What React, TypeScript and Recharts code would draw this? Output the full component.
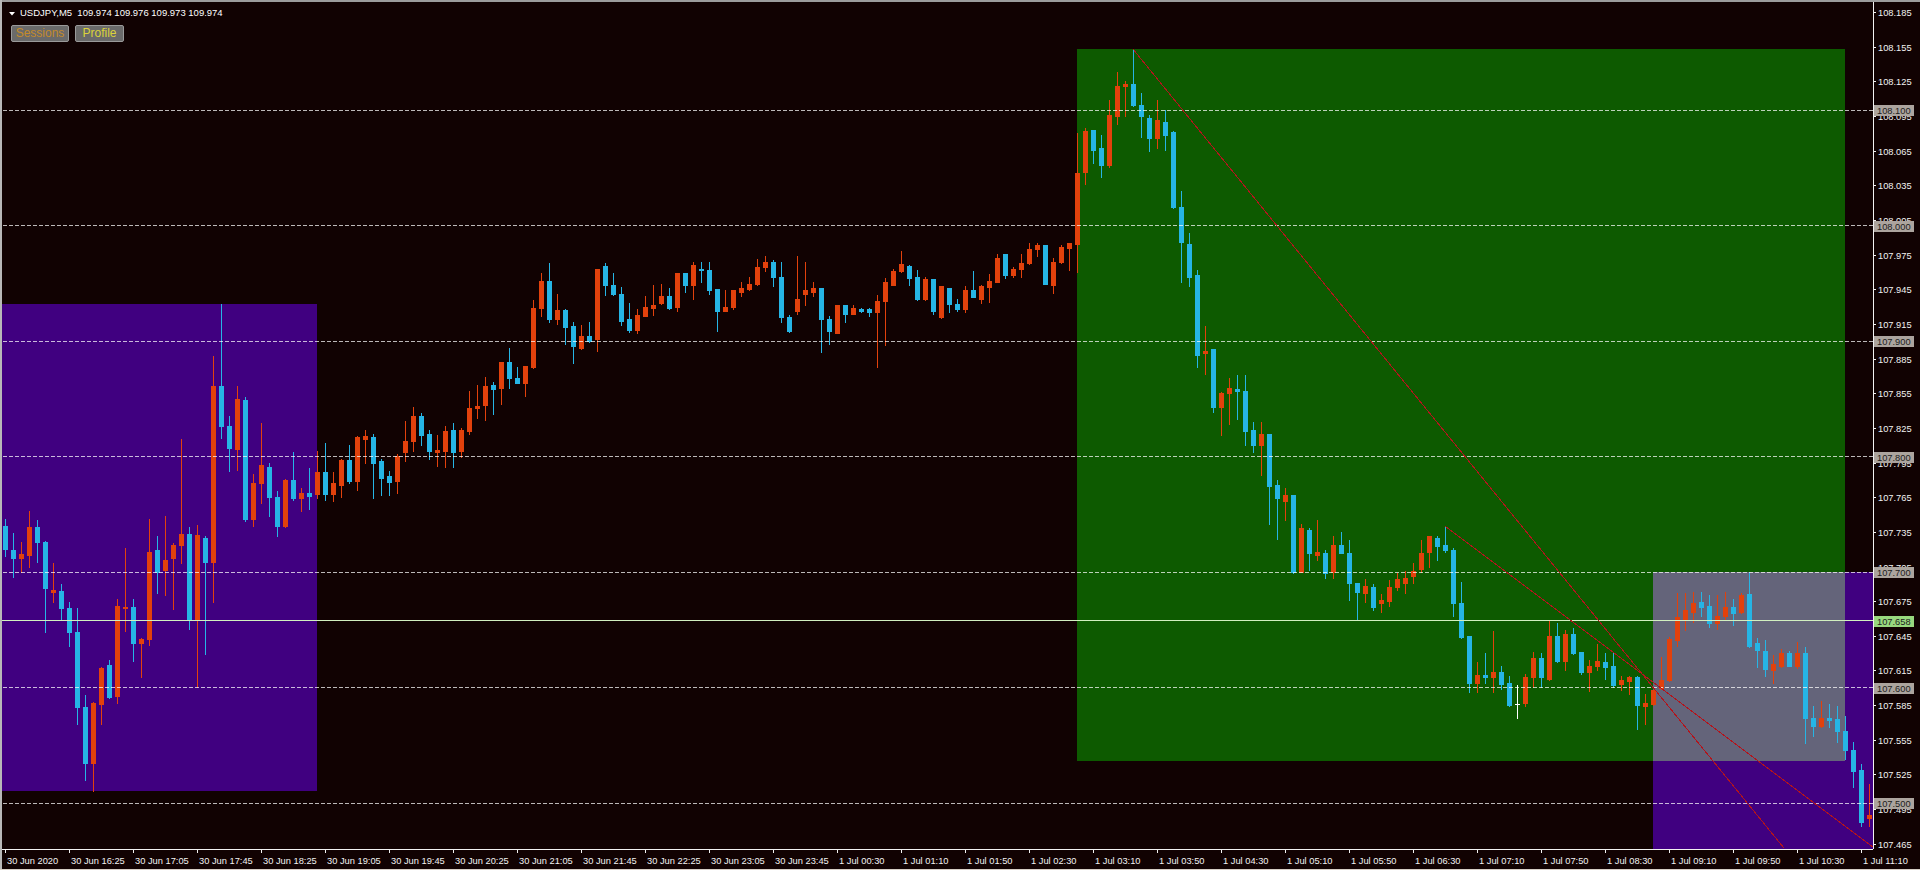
import React from 'react';
import { ComposedChart, Bar, XAxis, YAxis, ReferenceArea, ReferenceLine } from 'recharts';

// ---------- data (USDJPY M5, 234 bars) ----------
const OPEN = [
  107.740,107.719,107.712,107.715,107.739,107.726,107.683,107.684,107.669,107.648,
  107.583,107.535,107.586,107.620,107.593,107.669,107.670,107.639,107.642,107.719,
  107.702,107.712,107.724,107.733,107.659,107.730,107.709,107.861,107.827,107.807,
  107.849,107.746,107.777,107.791,107.765,107.740,107.780,107.764,107.769,107.768,
  107.787,107.768,107.776,107.797,107.779,107.815,107.817,107.796,107.783,107.779,
  107.804,107.814,107.835,107.820,107.804,107.805,107.823,107.805,107.822,107.842,
  107.845,107.862,107.860,107.882,107.868,107.864,107.878,107.929,107.952,107.919,
  107.927,107.913,107.894,107.905,107.902,107.965,107.949,107.941,107.919,107.910,
  107.922,107.929,107.933,107.939,107.930,107.959,107.949,107.963,107.962,107.945,
  107.926,107.930,107.943,107.945,107.950,107.964,107.969,107.956,107.921,107.926,
  107.941,107.943,107.946,107.919,107.907,107.931,107.924,107.928,107.928,107.925,
  107.935,107.949,107.961,107.965,107.956,107.937,107.954,107.921,107.946,107.932,
  107.928,107.944,107.937,107.947,107.951,107.976,107.957,107.963,107.968,107.980,
  107.983,107.949,107.969,107.981,107.984,108.047,108.083,108.067,108.053,108.095,
  108.121,108.123,108.105,108.093,108.076,108.090,108.081,108.016,107.984,107.957,
  107.890,107.893,107.843,107.855,107.859,107.857,107.823,107.810,107.820,107.776,
  107.762,107.767,107.700,107.737,107.715,107.717,107.700,107.724,107.717,107.691,
  107.682,107.687,107.673,107.675,107.687,107.691,107.697,107.703,107.718,107.730,
  107.724,107.719,107.673,107.645,107.604,107.611,107.609,107.614,107.604,107.586,
  107.587,107.609,107.626,107.608,107.645,107.623,107.647,107.631,107.614,107.619,
  107.622,107.619,107.603,107.606,107.609,107.584,107.586,107.600,107.607,107.641,
  107.659,107.666,107.674,107.671,107.656,107.662,107.670,107.666,107.681,107.639,
  107.632,107.615,107.619,107.630,107.619,107.630,107.574,107.567,107.574,107.573,
  107.563,107.546,107.529,107.487,
];
const HIGH = [
  107.746,107.734,107.726,107.753,107.745,107.727,107.708,107.690,107.674,107.669,
  107.594,107.588,107.618,107.624,107.677,107.721,107.677,107.643,107.746,107.731,
  107.749,107.725,107.815,107.739,107.741,107.731,107.887,107.932,107.835,107.861,
  107.852,107.785,107.829,107.795,107.770,107.781,107.804,107.773,107.790,107.805,
  107.812,107.787,107.798,107.810,107.818,107.823,107.820,107.798,107.788,107.802,
  107.831,107.843,107.838,107.823,107.819,107.827,107.829,107.825,107.857,107.862,
  107.869,107.865,107.882,107.894,107.878,107.879,107.936,107.959,107.968,107.941,
  107.928,107.917,107.914,107.917,107.963,107.968,107.959,107.947,107.933,107.928,
  107.939,107.949,107.950,107.946,107.959,107.959,107.969,107.969,107.969,107.945,
  107.944,107.944,107.951,107.956,107.971,107.974,107.970,107.969,107.923,107.974,
  107.969,107.951,107.946,107.922,107.931,107.931,107.931,107.929,107.929,107.940,
  107.955,107.963,107.978,107.966,107.962,107.956,107.954,107.948,107.946,107.937,
  107.948,107.961,107.949,107.958,107.976,107.976,107.964,107.976,107.985,107.985,
  107.983,107.972,107.983,107.985,108.080,108.085,108.083,108.079,108.109,108.133,
  108.125,108.153,108.115,108.096,108.109,108.100,108.082,108.030,107.994,107.962,
  107.913,107.893,107.856,107.868,107.871,107.871,107.830,107.830,107.820,107.780,
  107.773,107.767,107.742,107.738,107.745,107.719,107.731,107.735,107.728,107.691,
  107.694,107.690,107.681,107.693,107.699,107.701,107.708,107.728,107.731,107.731,
  107.739,107.721,107.692,107.645,107.622,107.630,107.649,107.619,107.610,107.602,
  107.612,107.631,107.630,107.659,107.656,107.650,107.652,107.631,107.624,107.638,
  107.630,107.630,107.610,107.610,107.610,107.595,107.598,107.627,107.644,107.682,
  107.682,107.683,107.683,107.680,107.680,107.683,107.677,107.682,107.700,107.643,
  107.641,107.628,107.634,107.632,107.640,107.635,107.584,107.589,107.586,107.584,
  107.576,107.553,107.534,107.517,
];
const LOW = [
  107.714,107.696,107.700,107.705,107.709,107.648,107.674,107.659,107.636,107.569,
  107.520,107.511,107.569,107.591,107.587,107.649,107.623,107.609,107.637,107.682,
  107.680,107.668,107.708,107.651,107.601,107.629,107.674,107.816,107.788,107.789,
  107.744,107.740,107.760,107.749,107.731,107.739,107.763,107.753,107.755,107.764,
  107.763,107.762,107.765,107.777,107.771,107.795,107.764,107.767,107.767,107.769,
  107.796,107.805,107.810,107.798,107.792,107.791,107.791,107.800,107.820,107.834,
  107.832,107.837,107.846,107.860,107.864,107.853,107.877,107.922,107.917,107.915,
  107.898,107.881,107.893,107.899,107.892,107.940,107.940,107.914,107.908,107.907,
  107.922,107.923,107.932,107.928,107.926,107.943,107.937,107.951,107.941,107.909,
  107.926,107.928,107.939,107.944,107.949,107.961,107.948,107.917,107.908,107.924,
  107.931,107.939,107.891,107.898,107.907,107.917,107.924,107.925,107.922,107.878,
  107.897,107.949,107.960,107.949,107.936,107.936,107.924,107.920,107.925,107.926,
  107.925,107.938,107.933,107.934,107.951,107.955,107.956,107.956,107.967,107.974,
  107.950,107.942,107.968,107.962,107.960,108.036,108.054,108.042,108.051,108.088,
  108.095,108.104,108.077,108.065,108.067,108.066,108.015,107.951,107.948,107.878,
  107.872,107.839,107.819,107.828,107.833,107.810,107.804,107.784,107.742,107.729,
  107.745,107.699,107.700,107.702,107.711,107.695,107.695,107.717,107.676,107.659,
  107.674,107.667,107.666,107.671,107.685,107.682,107.691,107.700,107.705,107.711,
  107.718,107.662,107.643,107.596,107.596,107.604,107.596,107.599,107.584,107.574,
  107.584,107.601,107.601,107.607,107.622,107.615,107.629,107.612,107.597,107.615,
  107.608,107.601,107.598,107.595,107.564,107.569,107.585,107.599,107.606,107.636,
  107.650,107.657,107.662,107.653,107.651,107.659,107.654,107.665,107.635,107.618,
  107.610,107.604,107.618,107.619,107.617,107.552,107.558,107.566,107.566,107.553,
  107.538,107.514,107.480,107.480,
];
const CLOSE = [
  107.720,107.712,107.716,107.739,107.726,107.686,107.685,107.669,107.648,107.583,
  107.535,107.587,107.617,107.592,107.671,107.670,107.639,107.642,107.718,107.700,
  107.711,107.724,107.733,107.659,107.732,107.709,107.861,107.827,107.808,107.850,
  107.746,107.777,107.793,107.765,107.740,107.780,107.764,107.769,107.766,107.787,
  107.768,107.777,107.797,107.779,107.817,107.818,107.795,107.782,107.778,107.801,
  107.814,107.835,107.819,107.805,107.806,107.822,107.804,107.823,107.842,107.844,
  107.861,107.859,107.882,107.868,107.864,107.879,107.929,107.952,107.919,107.927,
  107.912,107.896,107.905,107.900,107.963,107.949,107.941,107.918,107.910,107.923,
  107.930,107.931,107.939,107.929,107.959,107.949,107.966,107.962,107.944,107.926,
  107.930,107.944,107.946,107.950,107.964,107.969,107.956,107.921,107.909,107.937,
  107.944,107.946,107.919,107.909,107.931,107.924,107.929,107.926,107.925,107.935,
  107.951,107.961,107.967,107.955,107.937,107.954,107.926,107.948,107.932,107.928,
  107.944,107.938,107.948,107.952,107.972,107.957,107.963,107.968,107.980,107.983,
  107.950,107.969,107.982,107.985,108.046,108.082,108.066,108.053,108.096,108.121,
  108.123,108.105,108.095,108.076,108.092,108.079,108.016,107.986,107.956,107.888,
  107.892,107.843,107.855,107.860,107.857,107.822,107.810,107.820,107.775,107.764,
  107.767,107.700,107.738,107.717,107.718,107.699,107.724,107.717,107.691,107.683,
  107.688,107.670,107.676,107.687,107.694,107.695,107.701,107.717,107.731,107.723,
  107.719,107.673,107.644,107.604,107.611,107.609,107.614,107.603,107.585,107.586,
  107.609,107.626,107.609,107.645,107.623,107.647,107.630,107.614,107.619,107.623,
  107.618,107.602,107.607,107.609,107.585,107.587,107.598,107.607,107.642,107.661,
  107.667,107.673,107.670,107.656,107.662,107.670,107.665,107.680,107.636,107.633,
  107.616,107.621,107.630,107.619,107.630,107.574,107.567,107.574,107.572,107.563,
  107.546,107.528,107.484,107.490,
];

// time-axis labels, one every LABEL_STEP bars starting at bar 0
const TIME_LABELS = [
  '30 Jun 2020', '30 Jun 16:25', '30 Jun 17:05', '30 Jun 17:45', '30 Jun 18:25',
  '30 Jun 19:05', '30 Jun 19:45', '30 Jun 20:25', '30 Jun 21:05', '30 Jun 21:45',
  '30 Jun 22:25', '30 Jun 23:05', '30 Jun 23:45', '1 Jul 00:30', '1 Jul 01:10',
  '1 Jul 01:50', '1 Jul 02:30', '1 Jul 03:10', '1 Jul 03:50', '1 Jul 04:30',
  '1 Jul 05:10', '1 Jul 05:50', '1 Jul 06:30', '1 Jul 07:10', '1 Jul 07:50',
  '1 Jul 08:30', '1 Jul 09:10', '1 Jul 09:50', '1 Jul 10:30', '1 Jul 11:10',
];
const LABEL_STEP = 8;

// price-scale tick labels
const PRICE_TICKS = [
  108.185, 108.155, 108.125, 108.095, 108.065, 108.035, 108.005, 107.975, 107.945,
  107.915, 107.885, 107.855, 107.825, 107.795, 107.765, 107.735, 107.705, 107.675,
  107.645, 107.615, 107.585, 107.555, 107.525, 107.495, 107.465,
];
// horizontal dashed level lines (with highlighted price labels)
const LEVELS = [108.1, 108.0, 107.9, 107.8, 107.7, 107.6, 107.5];
const CURRENT_PRICE = 107.658;

// session rectangles: bar index (x) and price (y); null = extends to chart edge
const BOX_X1 = [null, 134, 206, 206];
const BOX_X2 = [39, 230, null, 230];
const BOX_Y1 = [107.511, 107.537, 107.4605, 107.537];
const BOX_Y2 = [107.932, 108.153, 107.700, 107.700];
const BOX_KIND = ['purple', 'green', 'purple', 'overlap'];

// trend lines: start/end bar index and price
const TREND_X1 = [141, 180];
const TREND_Y1 = [108.153, 107.740];
const TREND_X2 = [222.4, 233.5];
const TREND_Y2 = [107.461, 107.462];

const HEADER = 'USDJPY,M5  109.974 109.976 109.973 109.974';

// ---------- layout / style ----------
const W = 1920;
const H = 870;
const Y_MIN = 107.46043;
const Y_MAX = 108.19377;
const X_MIN = -0.5;
const X_MAX = 233.5;
const BG = '#110202';
const AXIS = '#f2f2f2';
const BULL = '#e2410c';
const BEAR = '#26b5e5';
const DOJI = '#ffffff';
const BOX_COLORS: Record<string, string> = {
  purple: '#400080',
  green: '#0d5a00',
  overlap: '#64647a',
};
const FONT = "'Liberation Sans', Arial, sans-serif";

const DATA = OPEN.map((o, i) => ({
  i,
  open: o,
  high: HIGH[i],
  low: LOW[i],
  close: CLOSE[i],
  range: [LOW[i], HIGH[i]],
}));

const X_TICKS = TIME_LABELS.map((_, k) => k * LABEL_STEP);
const Y_TICKS_ALL = [...PRICE_TICKS, ...LEVELS, CURRENT_PRICE];

function Candle(props: any) {
  const { x, y, width, height, payload } = props;
  if (!payload || x == null || y == null) return null;
  const top = Math.min(y, y + height);
  const h = Math.abs(height);
  const { open, close, high, low } = payload;
  const span = high - low;
  const py = (p: number) => (span > 0 ? top + ((high - p) / span) * h : top);
  const cx = Math.round(x + width / 2);
  const color = close > open ? BULL : close < open ? BEAR : DOJI;
  const wTop = Math.round(py(high));
  const wBot = Math.round(py(low));
  const bTop = Math.round(py(Math.max(open, close)));
  const bBot = Math.round(py(Math.min(open, close)));
  return (
    <g>
      <rect x={cx} y={wTop} width={1} height={Math.max(1, wBot - wTop + 1)} fill={color} />
      <rect x={cx - 2} y={bTop} width={5} height={Math.max(1, bBot - bTop + 1)} fill={color} />
    </g>
  );
}

function XTick(props: any) {
  const { x, y, payload } = props;
  const idx = Math.round(payload.value / LABEL_STEP);
  const px = Math.round(x);
  return (
    <g>
      <rect x={px} y={y} width={1} height={4} fill={AXIS} />
      <text x={px + 2} y={y + 15} fill={AXIS} fontSize={9.3} fontFamily={FONT}>
        {TIME_LABELS[idx]}
      </text>
    </g>
  );
}

function YTick(props: any) {
  const { x, y, payload } = props;
  const v = payload.value as number;
  const py = Math.round(y);
  const isLevel = LEVELS.some((l) => Math.abs(l - v) < 1e-9);
  const isCur = Math.abs(v - CURRENT_PRICE) < 1e-9;
  if (isLevel || isCur) {
    return (
      <g>
        <rect x={x + 1} y={py - 5} width={40} height={11} fill={isCur ? '#98d87e' : '#aca49e'} />
        <text x={x + 4} y={py + 4} fill="#1c1c1c" fontSize={9.3} fontFamily={FONT}>
          {v.toFixed(3)}
        </text>
      </g>
    );
  }
  return (
    <g>
      <rect x={x} y={py} width={3} height={1} fill={AXIS} />
      <text x={x + 5} y={py + 4} fill={AXIS} fontSize={9.3} fontFamily={FONT}>
        {v.toFixed(3)}
      </text>
    </g>
  );
}

export default function App() {
  return (
    <div
      style={{
        position: 'absolute',
        left: 0,
        top: 0,
        width: W,
        height: H,
        background: BG,
        overflow: 'hidden',
        fontFamily: FONT,
      }}
    >
      <style>{`.mt4 svg rect, .mt4 svg line, .mt4 svg path { shape-rendering: crispEdges; }`}</style>
      <div className="mt4" style={{ position: 'absolute', left: 0, top: 0 }}>
        <ComposedChart width={W} height={H} data={DATA} margin={{ top: 2, right: 0, bottom: 0, left: 1 }}>
          <XAxis
            dataKey="i"
            type="number"
            domain={[X_MIN, X_MAX]}
            allowDataOverflow
            ticks={X_TICKS}
            interval={0}
            height={21}
            tickSize={0}
            tickMargin={0}
            tickLine={false}
            axisLine={{ stroke: AXIS }}
            tick={(p: any) => <XTick {...p} />}
          />
          <YAxis
            orientation="right"
            type="number"
            domain={[Y_MIN, Y_MAX]}
            allowDataOverflow
            ticks={Y_TICKS_ALL}
            interval={0}
            width={47}
            tickSize={0}
            tickMargin={0}
            tickLine={false}
            axisLine={{ stroke: AXIS }}
            tick={(p: any) => <YTick {...p} />}
          />
          {BOX_KIND.map((k, n) => (
            <ReferenceArea
              key={'box' + n}
              x1={BOX_X1[n] ?? undefined}
              x2={BOX_X2[n] ?? undefined}
              y1={BOX_Y1[n]}
              y2={BOX_Y2[n]}
              fill={BOX_COLORS[k]}
              fillOpacity={1}
              stroke="none"
            />
          ))}
          {LEVELS.map((l) => (
            <ReferenceLine
              key={'lvl' + l}
              y={l}
              stroke="#ffffff"
              strokeOpacity={0.72}
              strokeDasharray="4 2"
            />
          ))}
          <ReferenceLine y={CURRENT_PRICE} stroke="#d2f0c0" />
          {TREND_X1.map((x1, n) => (
            <ReferenceLine
              key={'tr' + n}
              segment={[
                { x: x1, y: TREND_Y1[n] },
                { x: TREND_X2[n], y: TREND_Y2[n] },
              ]}
              stroke="#b3141c"
              strokeWidth={1}
            />
          ))}
          <Bar
            dataKey="range"
            barSize={5}
            isAnimationActive={false}
            shape={(p: any) => <Candle {...p} />}
          />
        </ComposedChart>
      </div>

      {/* window frame */}
      <div style={{ position: 'absolute', left: 0, top: 0, width: W, height: 2, background: '#9c9c9c' }} />
      <div style={{ position: 'absolute', left: 0, top: 0, width: 2, height: H, background: '#b8b8b8' }} />
      <div style={{ position: 'absolute', left: 0, top: H - 1, width: W, height: 1, background: '#d6cec6' }} />

      {/* header */}
      <svg style={{ position: 'absolute', left: 0, top: 0 }} width={30} height={20}>
        <polygon points="9,12 15,12 12,15.5" fill="#ffffff" />
      </svg>
      <div
        style={{
          position: 'absolute',
          left: 20,
          top: 7,
          fontSize: 9.5,
          lineHeight: '12px',
          color: '#ffffff',
          whiteSpace: 'pre',
        }}
      >
        {HEADER}
      </div>
      <div
        style={{
          position: 'absolute',
          left: 11,
          top: 25,
          width: 56,
          height: 15,
          background: '#6a6a6a',
          border: '1px solid #9a9a9a',
          borderRadius: 2,
          color: '#c48a2a',
          fontSize: 12,
          lineHeight: '15px',
          textAlign: 'center',
        }}
      >
        Sessions
      </div>
      <div
        style={{
          position: 'absolute',
          left: 75,
          top: 25,
          width: 47,
          height: 15,
          background: '#6a6a6a',
          border: '1px solid #9a9a9a',
          borderRadius: 2,
          color: '#dcd23a',
          fontSize: 12,
          lineHeight: '15px',
          textAlign: 'center',
        }}
      >
        Profile
      </div>
    </div>
  );
}
